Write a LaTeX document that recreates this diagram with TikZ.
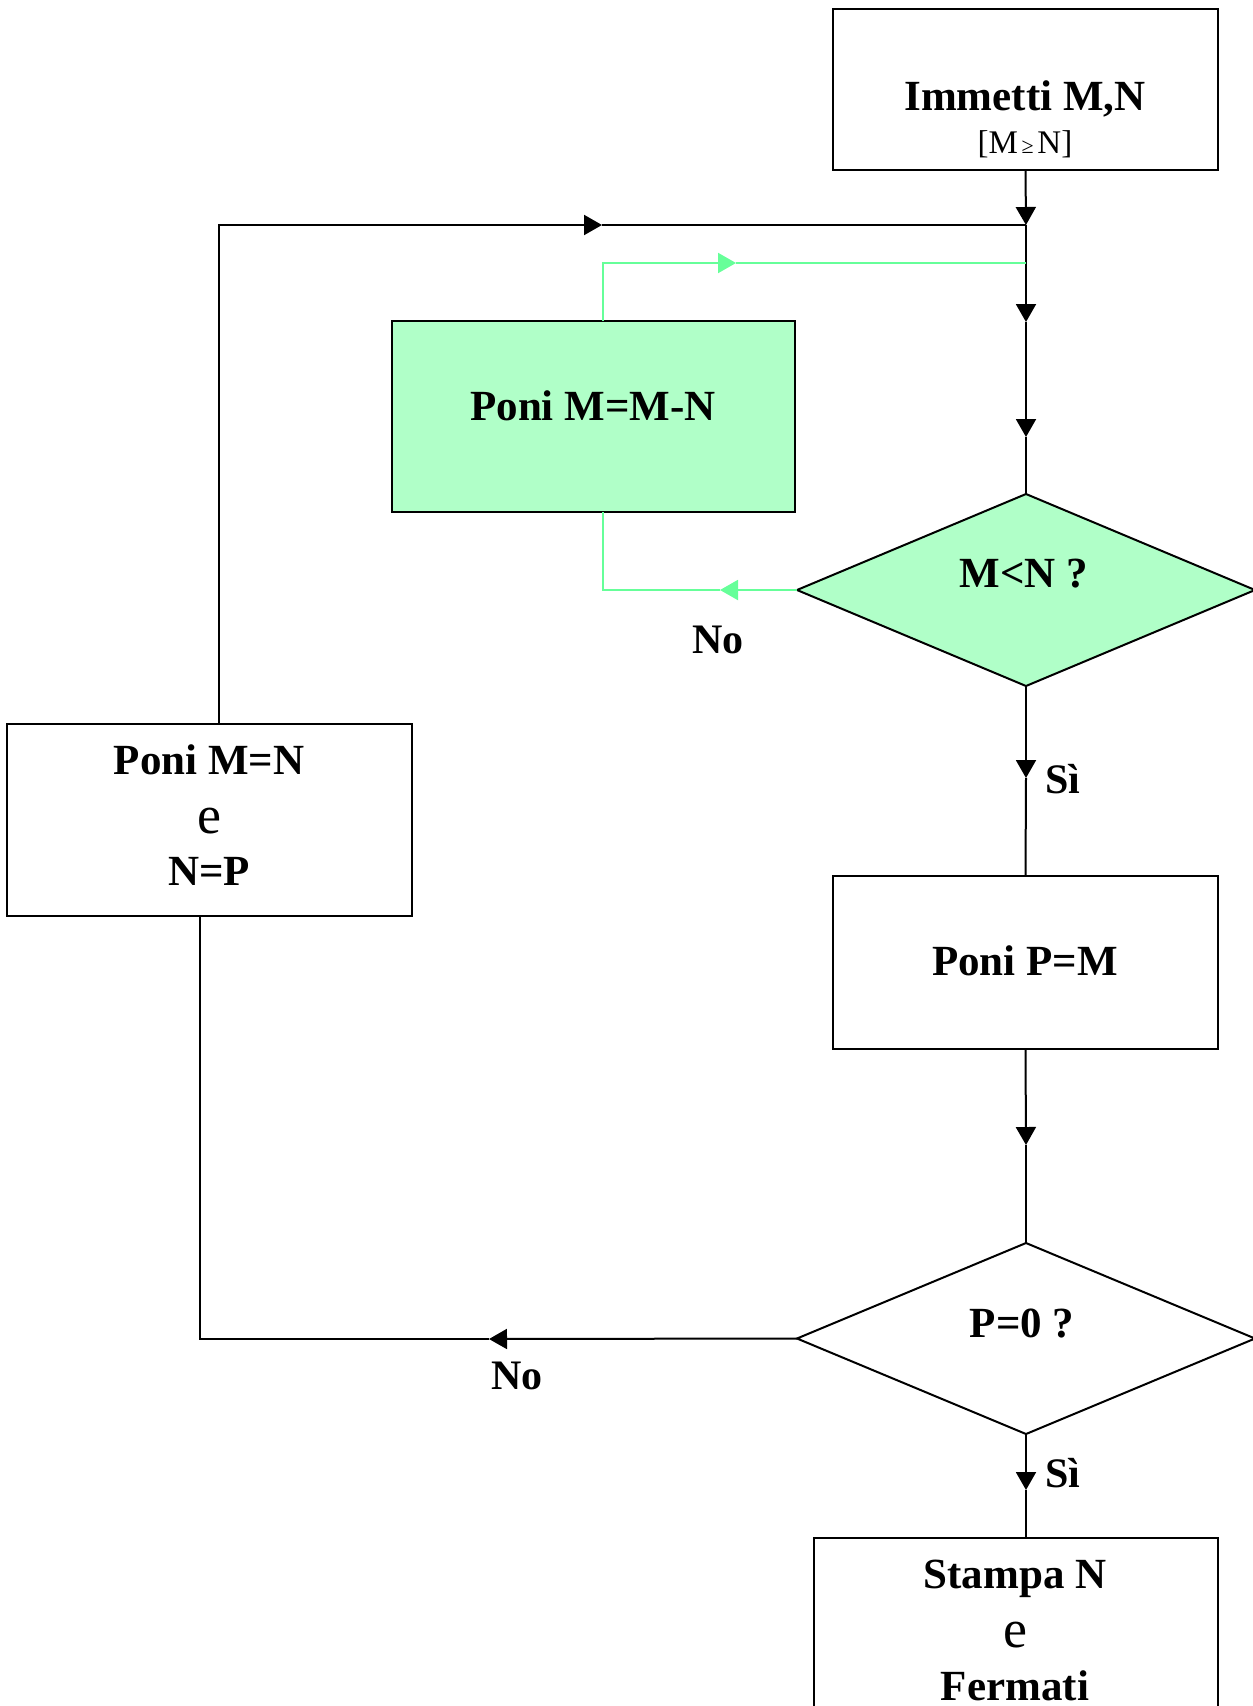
\documentclass[tikz,border=0pt]{standalone}
\usepackage{fontspec}
\setmainfont{Liberation Serif}
\usetikzlibrary{arrows.meta,shapes.geometric}
\definecolor{mint}{RGB}{176,255,200}
\definecolor{lgreen}{RGB}{102,255,153}
\begin{document}
\begin{tikzpicture}[x=1pt,y=-1pt,
  box/.style={draw=black,line width=2pt,rectangle,inner sep=0pt,outer sep=0pt},
  dia/.style={draw=black,line width=2pt,diamond,inner sep=0pt,outer sep=0pt},
  conn/.style={line width=2pt,black},
  gconn/.style={line width=2pt,lgreen},
  tip/.style={-{Triangle[width=20pt,length=18pt]}},
  txt/.style={anchor=base,inner sep=0pt,font=\fontsize{43}{43}\selectfont\bfseries},
  small/.style={anchor=base,inner sep=0pt,font=\fontsize{33}{33}\selectfont},
  ee/.style={anchor=base,inner sep=0pt,font=\fontsize{54}{54}\selectfont},
  lbl/.style={anchor=base,inner sep=0pt,font=\fontsize{42}{42}\selectfont\bfseries}
]
\useasboundingbox (0,0) rectangle (1253,1706);
\fill[white] (0,0) rectangle (1253,1706);

% boxes
\node[box,minimum width=385pt,minimum height=161pt] (in) at (1025.5,89.5) {};
\node[box,fill=mint,minimum width=403pt,minimum height=191pt] (sub) at (593.5,416.5) {};
\node[dia,fill=mint,minimum width=458pt,minimum height=192pt] (d1) at (1026,590) {};
\node[box,minimum width=405pt,minimum height=192pt] (mn) at (209.5,820) {};
\node[box,minimum width=385pt,minimum height=173pt] (pm) at (1025.5,962.5) {};
\node[dia,minimum width=458pt,minimum height=191pt] (d2) at (1026,1338.5) {};
\node[box,minimum width=404pt,minimum height=182pt] (st) at (1016,1629) {};

% texts
\node[txt] (t1) at (1025,110) {Immetti M,N};
\node[small] (t1b) at (1025,153) {[M{\fontsize{22}{22}\selectfont\,≥\,}N]};
\node[txt] (t2) at (593,420) {Poni M=M-N};
\node[txt] (t3) at (1024,587) {M<N ?};
\node[txt] (t4) at (209,774) {Poni M=N};
\node[ee] (t4e) at (209,833) {e};
\node[txt] (t4b) at (209,885) {N=P};
\node[txt] (t5) at (1025,975) {Poni P=M};
\node[txt] (t6) at (1022,1337) {P=0 ?};
\node[txt] (t7) at (1015,1588) {Stampa N};
\node[ee] (t7e) at (1015,1647) {e};
\node[txt] (t7b) at (1015,1700) {Fermati};

\node[lbl] (no1) at (718,653) {No};
\node[lbl] (si1) at (1063,793) {Sì};
\node[lbl] (si2) at (1063,1487) {Sì};
\node[lbl] (no2) at (517,1389) {No};

% coordinates
\coordinate (j1) at (1026,225);
\coordinate (a2) at (1026,322);
\coordinate (a3) at (1026,437);
\coordinate (j2) at (1026,263);
\coordinate (mnT) at (219,724);
\coordinate (cl) at (219,225);
\coordinate (r1) at (602,225);
\coordinate (subT) at (603,321);
\coordinate (gc1) at (603,263);
\coordinate (g1) at (736,263);
\coordinate (subB) at (603,512);
\coordinate (gc2) at (603,590);
\coordinate (g2) at (720,590);
\coordinate (a4) at (1026,778);
\coordinate (a5) at (1026,1145);
\coordinate (a6) at (1026,1490);
\coordinate (stT) at (1026,1538);
\coordinate (a7) at (489,1339);
\coordinate (cb) at (200,1339);
\coordinate (mnB) at (200,916);

% main line
\draw[conn,tip] (in.south) -- (j1);
\draw[conn,tip] (j1) -- (a2);
\draw[conn,tip] (a2) -- (a3);
\draw[conn] (a3) -- (d1.north);
% loop from left box
\draw[conn,tip] (mnT) -- (cl) -- (r1);
\draw[conn] (r1) -- (j1);
% green loop
\draw[gconn,tip] (subT) -- (gc1) -- (g1);
\draw[gconn] (g1) -- (j2);
\draw[gconn,tip] (d1.west) -- (g2);
\draw[gconn] (g2) -- (gc2) -- (subB);
% down
\draw[conn,tip] (d1.south) -- (a4);
\draw[conn] (a4) -- (pm.north);
\draw[conn,tip] (pm.south) -- (a5);
\draw[conn] (a5) -- (d2.north);
\draw[conn,tip] (d2.south) -- (a6);
\draw[conn] (a6) -- (stT);
% P=0 no
\draw[conn,tip] (d2.west) -- (a7);
\draw[conn] (a7) -- (cb) -- (mnB);
\end{tikzpicture}
\end{document}
